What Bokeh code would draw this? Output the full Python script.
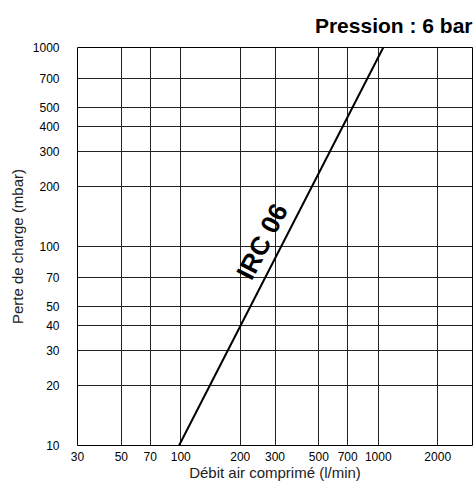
from bokeh.plotting import figure
from bokeh.models import FixedTicker, NumeralTickFormatter, Title, Label
from bokeh.embed import file_html
from bokeh.resources import INLINE
import math

x_ticks = [30, 50, 70, 100, 200, 300, 500, 700, 1000, 2000]
y_ticks = [10, 20, 30, 40, 50, 70, 100, 200, 300, 400, 500, 700, 1000]
line_x = [98, 1060]
line_y = [10, 1000]
curve_name = "IRC 06"
label_pos = (258, 106)

FONT = "Liberation Sans"

p = figure(width=473, height=491, x_axis_type="log", y_axis_type="log",
           x_range=(30, 3000), y_range=(10, 1000),
           output_backend="svg", toolbar_location=None,
           min_border_left=77, min_border_right=1, min_border_top=47, min_border_bottom=46)

p.title = Title(text="Pression : 6 bar", align="right", text_font=FONT,
                text_font_size="21px", text_font_style="bold", text_color="black",
                text_line_height=0.9, offset=0, standoff=22)

p.line(line_x, line_y, line_color="black", line_width=2)

p.add_layout(Label(x=label_pos[0], y=label_pos[1], text=curve_name,
                   angle=math.radians(62.8), text_align="center", text_baseline="middle",
                   text_font=FONT, text_font_size="26px", text_font_style="bold",
                   text_color="black"))

for ax, ticks in ((p.xaxis[0], x_ticks), (p.yaxis[0], y_ticks)):
    ax.ticker = FixedTicker(ticks=ticks, minor_ticks=[])
    ax.formatter = NumeralTickFormatter(format="0")
    ax.major_tick_line_color = None
    ax.minor_tick_line_color = None
    ax.axis_line_color = None
    ax.major_label_text_font = FONT
    ax.major_label_text_font_size = "12px"
    ax.major_label_text_color = "black"
    ax.axis_label_text_font = FONT
    ax.axis_label_text_font_size = "15px"
    ax.axis_label_text_font_style = "normal"
    ax.axis_label_text_color = "#222222"

p.xaxis.axis_label = "Débit air comprimé (l/min)"
p.yaxis.axis_label = "Perte de charge (mbar)"
p.xaxis.major_label_standoff = 0
p.yaxis.major_label_standoff = 12
p.xaxis.axis_label_standoff = 0
p.yaxis.axis_label_standoff = 4

p.xgrid.ticker = FixedTicker(ticks=x_ticks, minor_ticks=[])
p.ygrid.ticker = FixedTicker(ticks=y_ticks, minor_ticks=[])
for g in (p.xgrid[0], p.ygrid[0]):
    g.grid_line_color = "#222222"
    g.grid_line_width = 1
    g.grid_line_alpha = 1.0

p.outline_line_color = "black"
p.outline_line_width = 1
p.outline_line_alpha = 1.0
p.background_fill_color = "white"
p.border_fill_color = "white"

open("out.html", "w").write(file_html(p, INLINE))
